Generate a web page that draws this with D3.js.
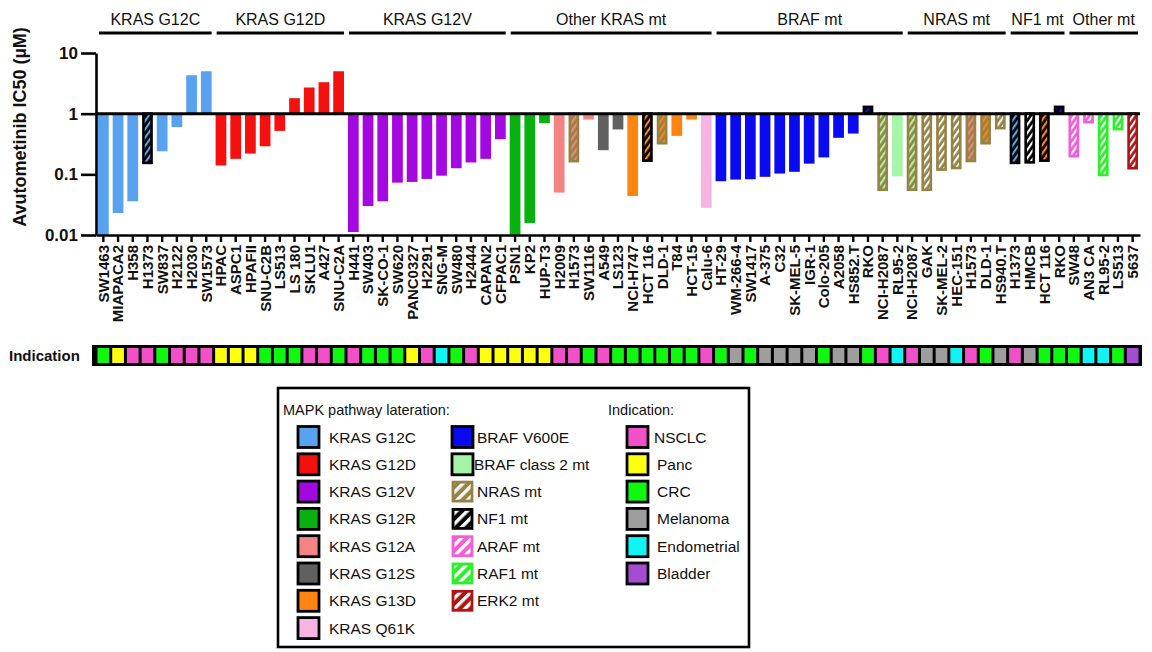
<!DOCTYPE html>
<html>
<head>
<meta charset="utf-8">
<script src="https://cdn.jsdelivr.net/npm/d3@7"></script>
<style>
  body { margin: 0; background: #fff; }
  text { font-family: "Liberation Sans", Arial, sans-serif; fill: #111; }
</style>
</head>
<body>
<script>
const width = 1152;
const height = 652;

// groups along the top
const groups = ["KRAS G12C", "KRAS G12D", "KRAS G12V", "Other KRAS mt", "BRAF mt", "NRAS mt", "NF1 mt", "Other mt"];
const groupSizes = [8, 9, 11, 14, 13, 7, 4, 5];

// cell lines (x categories)
const cellLines = [
    "SW1463", "MIAPACA2", "H358", "H1373", "SW837", "H2122", "H2030", "SW1573",
    "HPAC", "ASPC1", "HPAFII", "SNU-C2B", "LS513", "LS 180", "SKLU1", "A427", "SNU-C2A",
    "H441", "SW403", "SK-CO-1", "SW620", "PANC0327", "H2291", "SNG-M", "SW480", "H2444", "CAPAN2", "CFPAC1",
    "PSN1", "KP2", "HUP-T3", "H2009", "H1573", "SW1116", "A549", "LS123", "NCI-H747", "HCT 116", "DLD-1", "T84", "HCT-15", "Calu-6",
    "HT-29", "WM-266-4", "SW1417", "A-375", "C32", "SK-MEL-5", "IGR-1", "Colo-205", "A2058", "HS852.T", "RKO", "NCI-H2087", "RL95-2",
    "NCI-H2087", "GAK", "SK-MEL-2", "HEC-151", "H1573", "DLD-1", "HS940.T",
    "H1373", "HMCB", "HCT 116", "RKO",
    "SW48", "AN3 CA", "RL95-2", "LS513", "5637"
];

// avutometinib IC50 (uM)
const ic50 = [
    0.01, 0.023, 0.036, 0.147, 0.24, 0.6, 4.3, 5.0,
    0.14, 0.18, 0.22, 0.29, 0.52, 1.8, 2.7, 3.3, 5.0,
    0.0112, 0.03, 0.036, 0.073, 0.075, 0.084, 0.095, 0.126, 0.157, 0.18, 0.38,
    0.01, 0.0158, 0.7, 0.05, 0.157, 0.8, 0.25, 0.55, 0.044, 0.16, 0.31, 0.43, 0.8, 0.028,
    0.077, 0.082, 0.083, 0.091, 0.103, 0.11, 0.15, 0.19, 0.4, 0.47, 1.36, 0.053, 0.093,
    0.053, 0.053, 0.114, 0.121, 0.158, 0.31, 0.55,
    0.147, 0.15, 0.16, 1.36,
    0.19, 0.69, 0.093, 0.53, 0.12
];

// main alteration (bar fill, or stripe colour for hatched bars)
const alteration = [
    "KRAS G12C", "KRAS G12C", "KRAS G12C", "KRAS G12C", "KRAS G12C", "KRAS G12C", "KRAS G12C", "KRAS G12C",
    "KRAS G12D", "KRAS G12D", "KRAS G12D", "KRAS G12D", "KRAS G12D", "KRAS G12D", "KRAS G12D", "KRAS G12D", "KRAS G12D",
    "KRAS G12V", "KRAS G12V", "KRAS G12V", "KRAS G12V", "KRAS G12V", "KRAS G12V", "KRAS G12V", "KRAS G12V", "KRAS G12V", "KRAS G12V", "KRAS G12V",
    "KRAS G12R", "KRAS G12R", "KRAS G12R", "KRAS G12A", "KRAS G12A", "KRAS G12A", "KRAS G12S", "KRAS G12S", "KRAS G13D", "KRAS G13D", "KRAS G13D", "KRAS G13D", "KRAS G13D", "KRAS Q61K",
    "BRAF V600E", "BRAF V600E", "BRAF V600E", "BRAF V600E", "BRAF V600E", "BRAF V600E", "BRAF V600E", "BRAF V600E", "BRAF V600E", "BRAF V600E", "BRAF V600E", "BRAF class 2 mt", "BRAF class 2 mt",
    "BRAF class 2 mt", "none", "none", "none", "KRAS G12A", "KRAS G13D", "none",
    "KRAS G12C", "none", "KRAS G13D", "BRAF V600E",
    "none", "none", "none", "none", "none"
];

// second alteration drawn as hatched outline ("" = solid bar)
const hatch = [
    "", "", "", "NF1 mt", "", "", "", "",
    "", "", "", "", "", "", "", "", "",
    "", "", "", "", "", "", "", "", "", "", "",
    "", "", "", "", "NRAS mt", "", "", "", "", "NF1 mt", "NRAS mt", "", "", "",
    "", "", "", "", "", "", "", "", "", "", "NF1 mt", "NRAS mt", "",
    "NRAS mt", "NRAS mt", "NRAS mt", "NRAS mt", "NRAS mt", "NRAS mt", "NRAS mt",
    "NF1 mt", "NF1 mt", "NF1 mt", "NF1 mt",
    "ARAF mt", "ARAF mt", "RAF1 mt", "RAF1 mt", "ERK2 mt"
];

const indication = [
    "CRC", "Panc", "NSCLC", "NSCLC", "CRC", "NSCLC", "NSCLC", "NSCLC",
    "Panc", "Panc", "Panc", "CRC", "CRC", "CRC", "NSCLC", "NSCLC", "CRC",
    "NSCLC", "CRC", "CRC", "CRC", "Panc", "NSCLC", "Endometrial", "CRC", "NSCLC", "Panc", "Panc",
    "Panc", "Panc", "Panc", "NSCLC", "NSCLC", "CRC", "NSCLC", "CRC", "CRC", "CRC", "CRC", "CRC", "CRC", "NSCLC",
    "CRC", "Melanoma", "CRC", "Melanoma", "Melanoma", "Melanoma", "Melanoma", "CRC", "Melanoma", "Melanoma", "CRC", "NSCLC", "Endometrial",
    "NSCLC", "Melanoma", "Melanoma", "Endometrial", "NSCLC", "CRC", "Melanoma",
    "NSCLC", "Melanoma", "CRC", "CRC",
    "CRC", "Endometrial", "Endometrial", "CRC", "Bladder"
];

const yTicks = [0.01, 0.1, 1, 10];

// legend columns
const legendKras = ["KRAS G12C", "KRAS G12D", "KRAS G12V", "KRAS G12R", "KRAS G12A", "KRAS G12S", "KRAS G13D", "KRAS Q61K"];
const legendOther = ["BRAF V600E", "BRAF class 2 mt", "NRAS mt", "NF1 mt", "ARAF mt", "RAF1 mt", "ERK2 mt"];
const legendInd = ["NSCLC", "Panc", "CRC", "Melanoma", "Endometrial", "Bladder"];

const colors = {
    "KRAS G12C": "#58a2f0",
    "KRAS G12D": "#f51010",
    "KRAS G12V": "#a408e0",
    "KRAS G12R": "#08b010",
    "KRAS G12A": "#f48484",
    "KRAS G12S": "#606060",
    "KRAS G13D": "#ff8410",
    "KRAS Q61K": "#f6b4e2",
    "BRAF V600E": "#0a0af0",
    "BRAF class 2 mt": "#a6f4a8",
    "NRAS mt": "#978245",
    "NF1 mt": "#000000",
    "ARAF mt": "#f35ed6",
    "RAF1 mt": "#2cf02c",
    "ERK2 mt": "#b01414",
    "none": "#ffffff"
};
const indColors = {
    "NSCLC": "#f050c8",
    "Panc": "#ffff10",
    "CRC": "#10f810",
    "Melanoma": "#9e9e9e",
    "Endometrial": "#10f4f4",
    "Bladder": "#a64cd2"
};

let n = cellLines.length;

let svg = d3.select("body").append("svg")
    .attr("width", width)
    .attr("height", height);

let defs = svg.append("defs");

// scales
let x = d3.scaleBand()
    .domain(d3.range(n))
    .range([96, 1140])
    .paddingInner(0.27)
    .paddingOuter(0.135);

let y = d3.scaleLog()
    .domain([0.01, 10])
    .range([235, 53]);

let cellStart = i => x(i) - (x.step() - x.bandwidth()) / 2;

// hatch patterns: outline colour stripes over inner colour
function patternId(outline, inner, big) {
    let id = "p" + (big ? "L" : "") + outline.slice(1) + inner.slice(1);
    if (defs.select("#" + id).empty()) {
        let s = big ? 7.5 : 4.8;
        let pat = defs.append("pattern")
            .attr("id", id)
            .attr("patternUnits", "userSpaceOnUse")
            .attr("width", s)
            .attr("height", s)
            .attr("patternTransform", big ? "rotate(-45)" : "rotate(-55)");
        pat.append("rect").attr("width", s).attr("height", s).attr("fill", outline);
        pat.append("rect").attr("width", s).attr("height", big ? 3.4 : 2.1).attr("fill", inner);
    }
    return "url(#" + id + ")";
}

// group headers
let start = 0;
groups.forEach((g, k) => {
    let a = start, b = start + groupSizes[k] - 1;
    let x1 = cellStart(a) + 3, x2 = cellStart(b) + x.step() - 2;
    svg.append("line")
        .attr("x1", x1).attr("x2", x2)
        .attr("y1", 33).attr("y2", 33)
        .attr("stroke", "#000").attr("stroke-width", 3);
    svg.append("text")
        .attr("x", (x1 + x2) / 2).attr("y", 25)
        .attr("text-anchor", "middle")
        .attr("font-size", "16px")
        .text(g);
    start += groupSizes[k];
});

// bars, drawn from 1 uM
let sw = 2.6;
svg.append("g").selectAll("rect")
    .data(d3.range(n))
    .enter()
    .append("rect")
    .attr("x", i => hatch[i] ? x(i) + sw / 2 : x(i))
    .attr("width", i => hatch[i] ? x.bandwidth() - sw : x.bandwidth())
    .attr("y", i => Math.min(y(ic50[i]), y(1)) + (hatch[i] && ic50[i] > 1 ? sw / 2 : 0))
    .attr("height", i => Math.abs(y(ic50[i]) - y(1)) - (hatch[i] ? sw / 2 : 0))
    .attr("fill", i => hatch[i] ? patternId(colors[hatch[i]], colors[alteration[i]], false) : colors[alteration[i]])
    .attr("stroke", i => hatch[i] ? colors[hatch[i]] : "none")
    .attr("stroke-width", sw);

// line at 1 uM
svg.append("line")
    .attr("x1", 96).attr("x2", 1140)
    .attr("y1", y(1)).attr("y2", y(1))
    .attr("stroke", "#000").attr("stroke-width", 3);

// y axis
let yAxis = svg.append("g")
    .attr("transform", "translate(96,0)")
    .call(d3.axisLeft(y)
        .tickValues(yTicks)
        .tickFormat(d => String(d))
        .tickSize(15)
        .tickPadding(3)
        .tickSizeOuter(0));
yAxis.select(".domain").attr("stroke-width", 2.6);
yAxis.selectAll(".tick line").attr("stroke-width", 2.6);
yAxis.selectAll(".tick text")
    .attr("font-size", "17px")
    .attr("font-weight", "bold")
    .attr("font-family", "Liberation Sans, Arial, sans-serif")
    .attr("fill", "#111");

svg.append("text")
    .attr("transform", "translate(26,127) rotate(-90)")
    .attr("text-anchor", "middle")
    .attr("font-size", "18px")
    .attr("font-weight", "bold")
    .text("Avutometinib IC50 (µM)");

// x axis with cell line names
let xAxis = svg.append("g")
    .attr("transform", "translate(0,235)")
    .call(d3.axisBottom(x)
        .tickFormat(i => cellLines[i])
        .tickSize(7)
        .tickSizeOuter(0));
xAxis.select(".domain").attr("stroke-width", 2.6);
xAxis.selectAll(".tick line").attr("stroke-width", 2.4);
xAxis.selectAll(".tick text")
    .attr("transform", "rotate(-90)")
    .attr("x", -10)
    .attr("y", 0)
    .attr("dy", "0.36em")
    .attr("text-anchor", "end")
    .attr("font-size", "15px")
    .attr("font-weight", "bold")
    .attr("font-family", "Liberation Sans, Arial, sans-serif")
    .attr("fill", "#111");

// indication strip
svg.append("text")
    .attr("x", 9).attr("y", 361)
    .attr("font-size", "15px")
    .attr("font-weight", "bold")
    .text("Indication");

svg.append("rect")
    .attr("x", 92).attr("y", 345)
    .attr("width", 1142 - 92).attr("height", 21)
    .attr("fill", "#000");

svg.append("g").selectAll("rect")
    .data(d3.range(n))
    .enter()
    .append("rect")
    .attr("x", i => cellStart(i) + 1.5)
    .attr("y", 348)
    .attr("width", x.step() - 3)
    .attr("height", 15)
    .attr("fill", i => indColors[indication[i]]);

// legend
let legend = svg.append("g");
legend.append("rect")
    .attr("x", 278).attr("y", 388)
    .attr("width", 471).attr("height", 259)
    .attr("fill", "none").attr("stroke", "#000").attr("stroke-width", 2.6);

legend.append("text").attr("x", 283).attr("y", 415).attr("font-size", "14.5px").text("MAPK pathway lateration:");
legend.append("text").attr("x", 608).attr("y", 415).attr("font-size", "14.5px").text("Indication:");

let rowY = k => 437 + k * 27.3;

function solidSwatch(g, sx, k, fill) {
    g.append("rect")
        .attr("x", sx).attr("y", rowY(k) - 10.5)
        .attr("width", 21).attr("height", 21)
        .attr("fill", fill).attr("stroke", "#000").attr("stroke-width", 2.8);
}

legendKras.forEach((d, k) => {
    solidSwatch(legend, 298, k, colors[d]);
    legend.append("text").attr("x", 329).attr("y", rowY(k)).attr("dy", "0.36em")
        .attr("font-size", "15.5px").text(d);
});

legendOther.forEach((d, k) => {
    if (d === "BRAF V600E" || d === "BRAF class 2 mt") {
        solidSwatch(legend, 452, k, colors[d]);
    } else {
        legend.append("rect")
            .attr("x", 453).attr("y", rowY(k) - 9.5)
            .attr("width", 19).attr("height", 19)
            .attr("fill", patternId(colors[d], "#ffffff", true))
            .attr("stroke", colors[d]).attr("stroke-width", 2.8);
    }
    legend.append("text").attr("x", d === "BRAF class 2 mt" ? 474 : 477).attr("y", rowY(k)).attr("dy", "0.36em")
        .attr("font-size", "15.5px").text(d);
});

legendInd.forEach((d, k) => {
    solidSwatch(legend, 627, k, indColors[d]);
    legend.append("text").attr("x", k === 0 ? 654 : 657).attr("y", rowY(k)).attr("dy", "0.36em")
        .attr("font-size", "15.5px").text(d);
});
</script>
</body>
</html>
